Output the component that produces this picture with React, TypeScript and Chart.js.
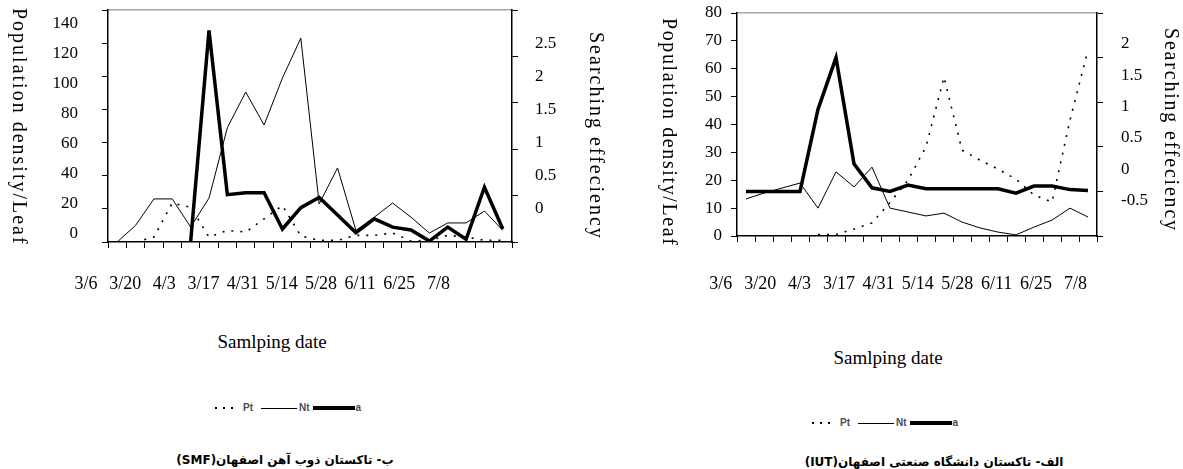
import React, { useEffect, useRef } from "react";
import { Chart, registerables } from "chart.js";

Chart.register(...registerables);

// ---------------- Panel "ب" (left): SMF vineyard ----------------
const smfCategories = ["1", "2", "3", "4", "5", "6", "7", "8", "9", "10", "11", "12", "13", "14", "15", "16", "17", "18", "19", "20", "21", "22"];
const smfPt = [null, 0, 3, 23.5, 21, 3, 7, 6, 14, 22, 3.6, 1, 1, 4, 4, 5.4, 0.6, 1, 4, 3, 1, 1];
const smfNt = [0, 10, 26, 26, 9, 26.5, 69, 90.5, 70.6, 99, 123, 23, 44.7, 7, 15, 23.5, 15, 5.4, 11.5, 11.5, 18.7, 7];
const smfA = [null, null, null, null, 0, 2.28, 0.51, 0.53, 0.53, 0.14, 0.37, 0.48, 0.29, 0.1, 0.25, 0.16, 0.13, 0.01, 0.16, 0.03, 0.59, 0.14];
const smfLeftTicks = [0, 20, 40, 60, 80, 100, 120, 140];
const smfRightTicks = [0, 0.5, 1, 1.5, 2, 2.5];

// ---------------- Panel "الف" (right): IUT vineyard ----------------
const iutCategories = ["1", "2", "3", "4", "5", "6", "7", "8", "9", "10", "11", "12", "13", "14", "15", "16", "17", "18", "19", "20"];
const iutPt = [null, null, null, null, 0.5, 0.5, 2.5, 4.7, 12, 20, 32, 57, 30.8, 27.2, 24, 20.4, 14.7, 12.2, 41.6, 66.7];
const iutNt = [13.3, 15.4, 17.2, 19, 10, 23, 17.6, 24.7, 10, 8.6, 7.2, 8.2, 5, 2.9, 1.4, 0.4, 3.2, 5.7, 10, 6.8];
const iutA = [0, 0, 0, 0, 0.92, 1.5, 0.31, 0.04, 0, 0.07, 0.03, 0.03, 0.03, 0.03, 0.03, -0.02, 0.06, 0.06, 0.02, 0.01];
const iutLeftTicks = [0, 10, 20, 30, 40, 50, 60, 70, 80];
const iutRightTicks = [-0.5, 0, 0.5, 1, 1.5, 2];

// shared x tick labels (sampling dates)
const dateLabels = ["3/6", "3/20", "4/3", "3/17", "4/31", "5/14", "5/28", "6/11", "6/25", "7/8"];

const serif = '"Liberation Serif", "Times New Roman", serif';

type Spec = {
  categories: string[];
  pt: (number | null)[];
  nt: (number | null)[];
  a: (number | null)[];
  leftRange: [number, number];
  leftStep: number;
  rightRange: [number, number];
  rightStep: number;
  leftLabels: number[];
  leftLabelRange: [number, number];
  rightLabels: number[];
  rightLabelRange: [number, number];
  xLabelRange: [number, number];
  canvasW: number;
  canvasH: number;
  padLeft: number;
  padTop: number;
  leftLabelW: number;
  rightLabelW: number;
  xLabelH: number;
  leftLabelPad: number;
  rightLabelPad: number;
  xLabelPad: number;
};

const smfSpec: Spec = {
  categories: smfCategories,
  pt: smfPt,
  nt: smfNt,
  a: smfA,
  leftRange: [0, 140],
  leftStep: 20,
  rightRange: [0, 2.5],
  rightStep: 0.5,
  leftLabels: smfLeftTicks,
  leftLabelRange: [-5.67, 149],
  rightLabels: smfRightTicks,
  rightLabelRange: [-0.51, 3.01],
  xLabelRange: [0.56, 10.88],
  canvasW: 590,
  canvasH: 300,
  padLeft: 30,
  padTop: 10,
  leftLabelW: 72,
  rightLabelW: 72,
  xLabelH: 52,
  leftLabelPad: 24,
  rightLabelPad: 17,
  xLabelPad: 25,
};

const iutSpec: Spec = {
  categories: iutCategories,
  pt: iutPt,
  nt: iutNt,
  a: iutA,
  leftRange: [0, 80],
  leftStep: 10,
  rightRange: [-0.5, 2],
  rightStep: 0.5,
  leftLabels: iutLeftTicks,
  leftLabelRange: [0, 80],
  rightLabels: iutRightTicks,
  rightLabelRange: [-1.06, 2.49],
  xLabelRange: [0.411, 9.546],
  canvasW: 593,
  canvasH: 300,
  padLeft: 0,
  padTop: 13,
  leftLabelW: 141,
  rightLabelW: 80,
  xLabelH: 58,
  leftLabelPad: 9,
  rightLabelPad: 18,
  xLabelPad: 31,
};

function buildConfig(s: Spec): any {
  const zeroPad = (sc: any) => {
    sc.paddingTop = 0;
    sc.paddingBottom = 0;
    sc.paddingLeft = 0;
    sc.paddingRight = 0;
  };
  const fixW = (w: number) => (sc: any) => {
    sc.width = w;
    zeroPad(sc);
  };
  const fixH = (h: number) => (sc: any) => {
    sc.height = h;
    zeroPad(sc);
  };
  const border = { display: true, color: "#000", width: 1.5, z: 1 };
  const marks = { display: true, drawOnChartArea: false, drawTicks: true, tickLength: 6, color: "#000", lineWidth: 1 };
  const noGrid = { display: false, drawTicks: false };
  const tickFont = { family: serif, size: 17 };
  const fmt = (v: any) => String(v);

  return {
    type: "line",
    data: {
      labels: s.categories,
      datasets: [
        { label: "Pt", data: s.pt, yAxisID: "y", xAxisID: "x", borderColor: "#000", borderWidth: 1.6, borderDash: [2, 7], pointRadius: 0, tension: 0 },
        { label: "Nt", data: s.nt, yAxisID: "y", xAxisID: "x", borderColor: "#000", borderWidth: 1, pointRadius: 0, tension: 0 },
        { label: "a", data: s.a, yAxisID: "y1", xAxisID: "x", borderColor: "#000", borderWidth: 3.5, pointRadius: 0, tension: 0 },
      ],
    },
    options: {
      responsive: false,
      animation: false,
      events: [],
      layout: { padding: { left: s.padLeft, top: s.padTop, right: 0, bottom: 0 } },
      plugins: { legend: { display: false }, tooltip: { enabled: false }, title: { display: false } },
      scales: {
        x: {
          type: "category",
          position: "bottom",
          offset: true,
          weight: 0,
          grid: { ...marks, offset: true },
          border,
          ticks: { display: false },
          afterFit: fixH(6),
        },
        xL: {
          type: "linear",
          axis: "x",
          position: "bottom",
          weight: 1,
          bounds: "data",
          min: s.xLabelRange[0],
          max: s.xLabelRange[1],
          grid: noGrid,
          border: { display: false },
          ticks: {
            display: true,
            autoSkip: false,
            maxRotation: 0,
            minRotation: 0,
            padding: s.xLabelPad,
            font: { family: serif, size: 18 },
            color: "#000",
            callback: (v: any) => dateLabels[v] ?? "",
          },
          afterBuildTicks: (sc: any) => {
            sc.ticks = dateLabels.map((_, i) => ({ value: i }));
          },
          afterFit: fixH(s.xLabelH),
        },
        xTop: {
          type: "category",
          axis: "x",
          position: "top",
          grid: { display: false, drawTicks: false },
          border: { display: true, color: "#a8a8a8", width: 1.5 },
          ticks: { display: false },
          afterFit: fixH(0),
        },
        y: {
          type: "linear",
          position: "left",
          weight: 0,
          min: s.leftRange[0],
          max: s.leftRange[1],
          grid: marks,
          border,
          ticks: { display: false, stepSize: s.leftStep },
          afterFit: fixW(6),
        },
        yL: {
          type: "linear",
          axis: "y",
          position: "left",
          weight: 1,
          bounds: "data",
          min: s.leftLabelRange[0],
          max: s.leftLabelRange[1],
          grid: noGrid,
          border: { display: false },
          ticks: { display: true, autoSkip: false, padding: s.leftLabelPad, crossAlign: "near", font: tickFont, color: "#000", callback: fmt },
          afterBuildTicks: (sc: any) => {
            sc.ticks = s.leftLabels.map((v) => ({ value: v }));
          },
          afterFit: fixW(s.leftLabelW),
        },
        y1: {
          type: "linear",
          position: "right",
          weight: 0,
          min: s.rightRange[0],
          max: s.rightRange[1],
          grid: marks,
          border,
          ticks: { display: false, stepSize: s.rightStep },
          afterFit: fixW(6),
        },
        y1L: {
          type: "linear",
          axis: "y",
          position: "right",
          weight: 1,
          bounds: "data",
          min: s.rightLabelRange[0],
          max: s.rightLabelRange[1],
          grid: noGrid,
          border: { display: false },
          ticks: { display: true, autoSkip: false, padding: s.rightLabelPad, crossAlign: "near", font: tickFont, color: "#000", callback: fmt },
          afterBuildTicks: (sc: any) => {
            sc.ticks = s.rightLabels.map((v) => ({ value: v }));
          },
          afterFit: fixW(s.rightLabelW),
        },
      },
    },
  };
}

function PanelChart({ spec, left }: { spec: Spec; left: number }) {
  const ref = useRef<HTMLCanvasElement>(null);
  useEffect(() => {
    if (!ref.current) return;
    const chart = new Chart(ref.current, buildConfig(spec));
    return () => chart.destroy();
  }, [spec]);
  return <canvas ref={ref} width={spec.canvasW} height={spec.canvasH} style={{ position: "absolute", left, top: 0 }} />;
}

function VTitle({ text, left, top, spacing }: { text: string; left: number; top: number; spacing: number }) {
  return (
    <div
      style={{
        position: "absolute",
        left,
        top,
        writingMode: "vertical-rl",
        fontFamily: serif,
        fontSize: 20,
        lineHeight: "20px",
        letterSpacing: spacing + "px",
        whiteSpace: "nowrap",
        color: "#000",
      }}
    >
      {text}
    </div>
  );
}

function XTitle({ center, top }: { center: number; top: number }) {
  return (
    <div
      style={{
        position: "absolute",
        left: center - 100,
        width: 200,
        top,
        textAlign: "center",
        fontFamily: serif,
        fontSize: 19,
        lineHeight: "22px",
        color: "#000",
        whiteSpace: "nowrap",
      }}
    >
      Samlping date
    </div>
  );
}

function Legend({ left, top }: { left: number; top: number }) {
  const txt: React.CSSProperties = {
    fontFamily: '"Liberation Sans", Arial, sans-serif',
    fontSize: 10,
    fontWeight: 700,
    color: "#4b4b58",
    lineHeight: "12px",
  };
  return (
    <div style={{ position: "absolute", left, top, height: 12, display: "flex", alignItems: "center", whiteSpace: "nowrap" }}>
      <span style={{ width: 23, height: 2, background: "repeating-linear-gradient(to right, #000 0 2px, transparent 2px 8px)" }} />
      <span style={{ ...txt, marginLeft: 5 }}>Pt</span>
      <span style={{ width: 36, height: 1, background: "#000", marginLeft: 8 }} />
      <span style={{ ...txt, marginLeft: 2 }}>Nt</span>
      <span style={{ width: 42, height: 4, background: "#000", marginLeft: 3 }} />
      <span style={{ ...txt, marginLeft: 1 }}>a</span>
    </div>
  );
}

function Caption({ text, center, top }: { text: string; center: number; top: number }) {
  return (
    <div
      dir="rtl"
      style={{
        position: "absolute",
        left: center - 200,
        width: 400,
        top,
        textAlign: "center",
        fontFamily: '"DejaVu Sans", "Noto Sans", sans-serif',
        fontWeight: 700,
        fontSize: 12,
        lineHeight: "18px",
        color: "#000",
        whiteSpace: "nowrap",
      }}
    >
      {text}
    </div>
  );
}

export default function App() {
  return (
    <div style={{ position: "absolute", left: 0, top: 0, width: 1183, height: 469, background: "#fff", overflow: "hidden" }}>
      <PanelChart spec={smfSpec} left={0} />
      <PanelChart spec={iutSpec} left={590} />

      <VTitle text="Population density/Leaf" left={10} top={8} spacing={2} />
      <VTitle text="Searching effeciency" left={587} top={32} spacing={2} />
      <VTitle text="Population density/Leaf" left={660} top={18} spacing={1.6} />
      <VTitle text="Searching effeciency" left={1162} top={28} spacing={1.8} />

      <XTitle center={272} top={331} />
      <XTitle center={888} top={347} />

      <Legend left={215} top={402} />
      <Legend left={812} top={417} />

      <Caption text="ب- تاکستان ذوب آهن اصفهان(SMF)" center={285} top={451} />
      <Caption text="الف- تاکستان دانشگاه صنعتی اصفهان(IUT)" center={934} top={453} />
    </div>
  );
}
